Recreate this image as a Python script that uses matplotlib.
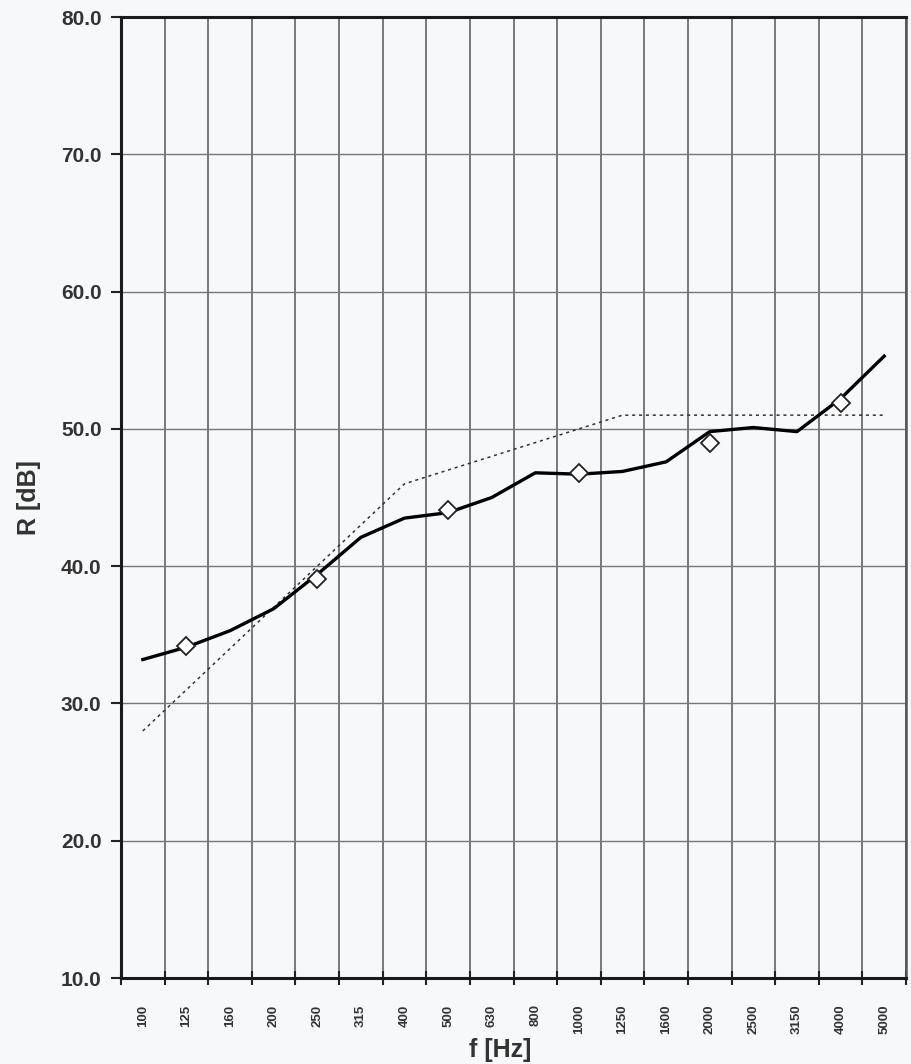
import numpy as np
import matplotlib
matplotlib.use("Agg")
import matplotlib.pyplot as plt

# one-third octave bands
bands = ["100", "125", "160", "200", "250", "315", "400", "500", "630",
         "800", "1000", "1250", "1600", "2000", "2500", "3150", "4000", "5000"]

# measured sound reduction index R [dB]
r_measured = [33.2, 34.1, 35.3, 36.9, 39.4, 42.1, 43.5, 43.9, 45.0,
              46.8, 46.7, 46.9, 47.6, 49.8, 50.1, 49.8, 52.2, 55.3]

# shifted reference curve
r_reference = [28, 31, 34, 37, 40, 43, 46, 47, 48,
               49, 50, 51, 51, 51, 51, 51, 51, 51]

# octave band values
octave_bands = ["125", "250", "500", "1000", "2000", "4000"]
r_octave = [34.2, 39.1, 44.1, 46.8, 49.0, 51.9]

y_ticks = [10, 20, 30, 40, 50, 60, 70, 80]

plt.rcParams["font.family"] = ["Liberation Sans", "DejaVu Sans"]

fig = plt.figure(figsize=(9.12, 10.64), dpi=100)
fig.patch.set_facecolor("#f7f8fa")
ax = fig.add_axes([0.1327, 0.0808, 0.8607, 0.9032])
ax.set_facecolor("#f7f8fa")

x = np.arange(len(bands))
ax.plot(x, r_reference, color="#333333", lw=1.1, ls=(0, (2, 2.5)), zorder=3)
ax.plot(x, r_measured, color="black", lw=2.4, zorder=4)
xo = [bands.index(b) for b in octave_bands]
ax.plot(xo, r_octave, ls="none", marker="D", ms=9, mfc="white",
        mec="#222222", mew=1.3, zorder=5)

ax.set_xlim(-0.5, len(bands) - 0.5)
ax.set_ylim(10, 80)

# vertical grid at band boundaries
ax.set_xticks(np.arange(len(bands) + 1) - 0.5)
ax.set_xticklabels([])
ax.set_xticks(x, minor=True)
ax.set_xticklabels(bands, minor=True, rotation=90, fontsize=9.5,
                   fontweight="bold", color="#333333")
ax.tick_params(axis="x", which="major", direction="inout", length=10,
               width=1.5, color="#222222")
ax.tick_params(axis="x", which="minor", length=0, pad=19)

ax.set_yticks(y_ticks)
ax.set_yticklabels([f"{v:.1f}" for v in y_ticks], fontsize=15,
                   fontweight="bold", color="#333333")
ax.tick_params(axis="y", direction="out", length=7, width=1.5,
               color="#222222", pad=7)

ax.grid(axis="x", which="major", color="#555555", lw=1.1)
ax.grid(axis="y", color="#777777", lw=1.0)
ax.set_axisbelow(True)

for side in ["left", "bottom", "top"]:
    ax.spines[side].set_linewidth(2.2)
    ax.spines[side].set_color("#1a1a1a")
ax.spines["right"].set_linewidth(1.8)
ax.spines["right"].set_color("#555555")

ax.set_ylabel("R [dB]", fontsize=18, fontweight="bold", color="#333333",
              labelpad=14)
ax.set_xlabel("f [Hz]", fontsize=18, fontweight="bold", color="#333333",
              labelpad=4)
ax.xaxis.set_label_coords(0.483, -0.062)

fig.savefig("out.png", dpi=100, facecolor=fig.get_facecolor())
